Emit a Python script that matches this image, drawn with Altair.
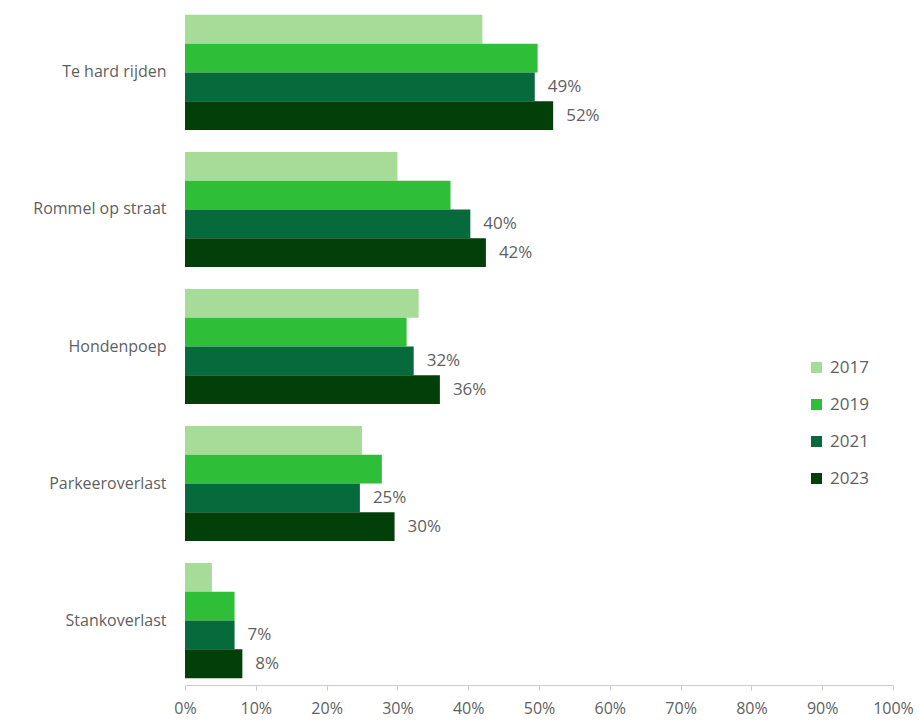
import altair as alt
import pandas as pd

categories = ["Te hard rijden", "Rommel op straat", "Hondenpoep", "Parkeeroverlast", "Stankoverlast"]
years = ["2017", "2019", "2021", "2023"]
values = {
    "2017": [42, 30, 33, 25, 3.8],
    "2019": [49.8, 37.5, 31.3, 27.8, 7.0],
    "2021": [49.4, 40.3, 32.3, 24.7, 7.0],
    "2023": [52.0, 42.5, 36.0, 29.6, 8.1],
}
labels = {
    "2021": ["49%", "40%", "32%", "25%", "7%"],
    "2023": ["52%", "42%", "36%", "30%", "8%"],
}
colors = ["#a6dc98", "#2fbe37", "#066a3c", "#033f08"]

rows = []
for y in years:
    for i, c in enumerate(categories):
        rows.append({
            "cat": c, "year": y, "value": values[y][i],
            "label": labels[y][i] if y in labels else "",
        })
df = pd.DataFrame(rows)

FONT = "Open Sans"
GREY = "#5f5f5f"

base = alt.Chart(df).encode(
    y=alt.Y("cat:N", sort=categories, title=None,
            scale=alt.Scale(paddingInner=0.16, paddingOuter=0.05),
            axis=alt.Axis(domain=False, ticks=False, labelPadding=19,
                          labelFontSize=16, labelColor=GREY, labelFont=FONT)),
    yOffset=alt.YOffset("year:N", sort=years),
)

bars = base.mark_bar().encode(
    x=alt.X("value:Q", title=None,
            scale=alt.Scale(domain=[0, 100]),
            axis=alt.Axis(values=list(range(0, 101, 10)),
                          labelExpr="datum.value + '%'",
                          labelFlush=False, labelOverlap=False,
                          grid=False, domainColor="#cccccc", tickColor="#cccccc",
                          tickSize=5, labelFontSize=16, labelColor=GREY,
                          labelFont=FONT, labelPadding=10)),
    color=alt.Color("year:N", sort=years,
                    scale=alt.Scale(domain=years, range=colors),
                    legend=alt.Legend(title=None, orient="none", legendX=623, legendY=351,
                                      symbolType="square", symbolSize=121,
                                      symbolStrokeWidth=0,
                                      labelFontSize=17, labelColor=GREY, labelFont=FONT,
                                      rowPadding=19, labelOffset=5)),
)

text = base.mark_text(align="left", baseline="middle", dx=13, fontSize=17,
                      color=GREY, font=FONT).encode(
    x=alt.X("value:Q"),
    text="label:N",
)

chart = (bars + text).properties(
    width=708, height=677,
    autosize=alt.AutoSizeParams(type="none"),
    padding={"left": 177, "top": 0, "right": 23, "bottom": 36},
).configure_view(stroke=None)

chart.save("out.html", embed_options={"renderer": "svg", "actions": False})
